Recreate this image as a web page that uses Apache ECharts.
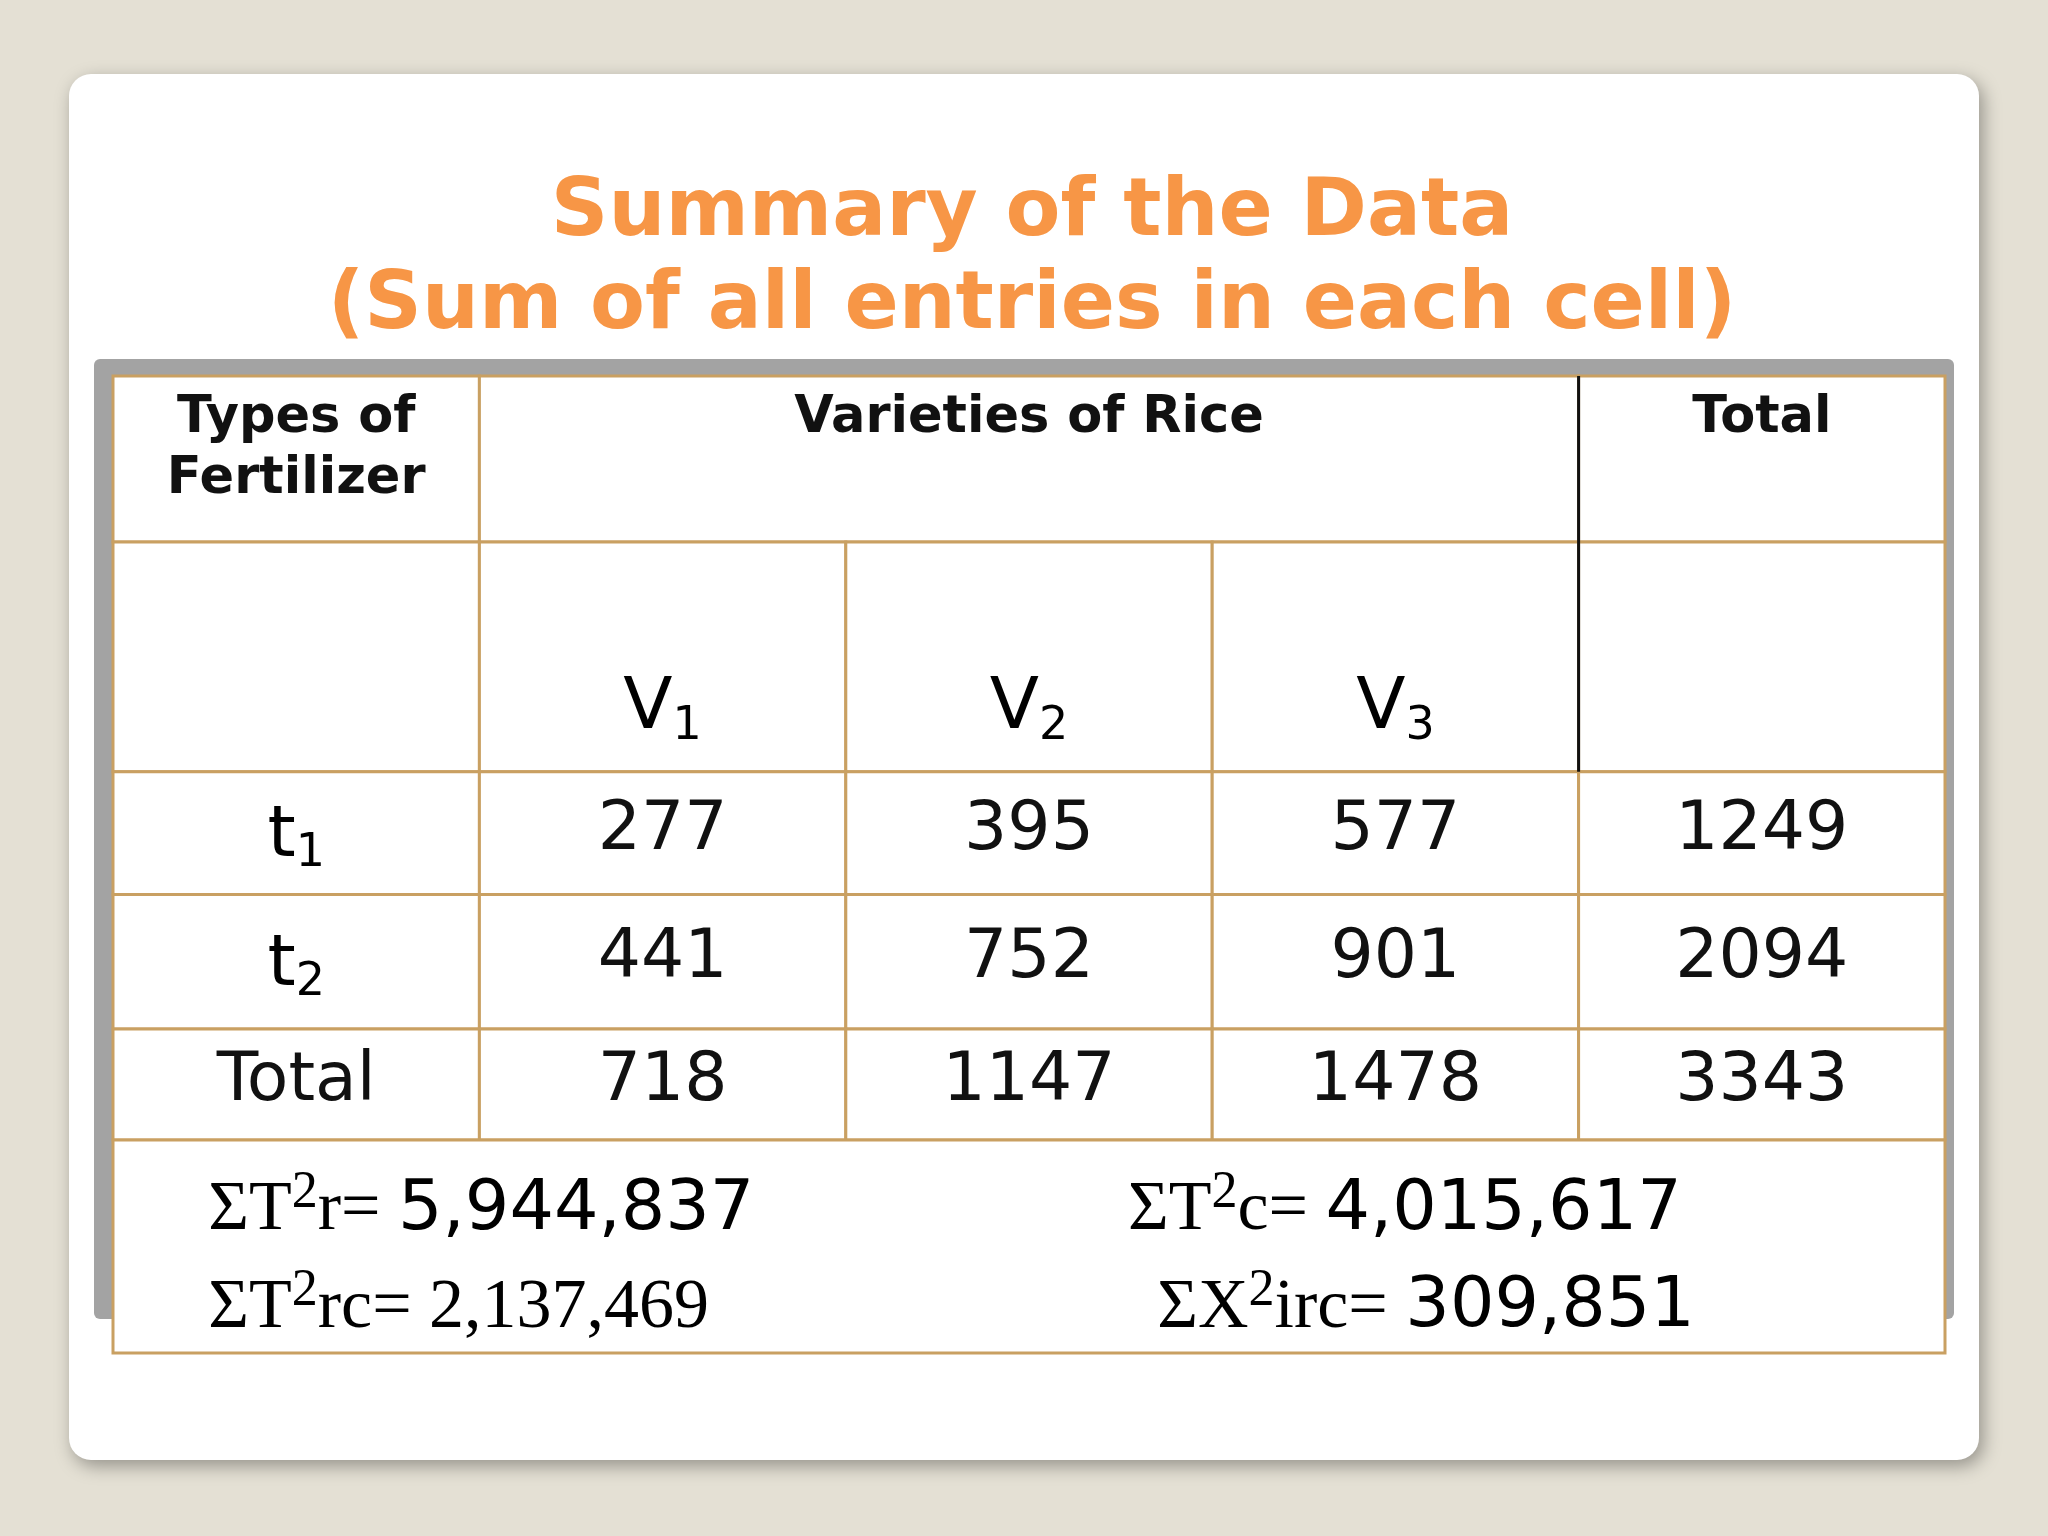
<!DOCTYPE html>
<html>
<head>
<meta charset="utf-8">
<script src="https://cdn.jsdelivr.net/npm/echarts@6/dist/echarts.min.js"></script>
<style>
  html, body { margin: 0; padding: 0; }
  #chart { width: 2048px; height: 1536px; }
</style>
</head>
<body>
<div id="chart"></div>
<script>
const titleLines = ["Summary of the Data", "(Sum of all entries in each cell)"];
const headers = ["Types of\nFertilizer", "Varieties of Rice", "Total"];
const varieties = ["1", "2", "3"];            // V subscripts
const fertilizers = ["1", "2"];               // t subscripts
const yields = [[277, 395, 577], [441, 752, 901]];
const rowTotals = [1249, 2094];
const colTotals = [718, 1147, 1478];
const grandTotal = 3343;
const sums = [
  { name: "T", tail: "r= ", val: "5,944,837", serifVal: false },
  { name: "T", tail: "c= ", val: "4,015,617", serifVal: false },
  { name: "T", tail: "rc= ", val: "2,137,469", serifVal: true },
  { name: "X", tail: "irc= ", val: "309,851", serifVal: false }
];

// row heights of the table (in axis units)
const rowHeights = [127, 176, 94, 103, 85, 163];
const rowEdges = [0];
rowHeights.forEach((h) => rowEdges.push(rowEdges[rowEdges.length - 1] + h));

const SANS = "DejaVu Sans";
const SERIF = "Liberation Serif";
const BORDER = "#c9a062";

const cells = [];
const addCell = (c0, c1, r, text, kind) => {
  cells.push({ value: [c0, c1, rowEdges[r], rowEdges[r + 1]], text, kind });
};

addCell(0, 1, 0, headers[0], "head");
addCell(1, 4, 0, headers[1], "head");
addCell(4, 5, 0, headers[2], "head");
addCell(0, 1, 1, "", "num");
varieties.forEach((v, i) => addCell(i + 1, i + 2, 1, "{b|V}{s|" + v + "}", "sub"));
addCell(4, 5, 1, "", "num");
fertilizers.forEach((t, r) => {
  addCell(0, 1, r + 2, "{b|t}{s|" + t + "}", "subc");
  yields[r].forEach((y, i) => addCell(i + 1, i + 2, r + 2, String(y), "num"));
  addCell(4, 5, r + 2, String(rowTotals[r]), "num");
});
addCell(0, 1, 4, "Total", "num");
colTotals.forEach((y, i) => addCell(i + 1, i + 2, 4, String(y), "num"));
addCell(4, 5, 4, String(grandTotal), "num");
addCell(0, 5, 5, "", "box");

const subRich = {
  b: { fontFamily: SANS, fontSize: 72, color: "#111" },
  s: { fontFamily: SANS, fontSize: 46, color: "#111", padding: [34, 0, 0, 0] }
};

function renderItem(params, api) {
  const cell = cells[params.dataIndex];
  const p0 = api.coord([api.value(0), api.value(2)]);
  const p1 = api.coord([api.value(1), api.value(3)]);
  const x = p0[0], y = p0[1], w = p1[0] - p0[0], h = p1[1] - p0[1];
  const children = [{
    type: "rect",
    shape: { x, y, width: w, height: h },
    style: { fill: "#fff", stroke: BORDER, lineWidth: 3 }
  }];
  const cx = x + w / 2;
  if (cell.kind === "head") {
    children.push({
      type: "text",
      style: { text: cell.text, x: cx, y: y + 12, align: "center", verticalAlign: "top",
        font: "bold 51px '" + SANS + "'", fill: "#111", lineHeight: 61 }
    });
  } else if (cell.kind === "sub") {
    children.push({
      type: "text",
      style: { text: cell.text, x: cx, y: y + h - 22, align: "center", verticalAlign: "bottom", rich: subRich }
    });
  } else if (cell.kind === "subc") {
    children.push({
      type: "text",
      style: { text: cell.text, x: cx, y: y + h / 2 + 4, align: "center", verticalAlign: "middle", rich: subRich }
    });
  } else if (cell.kind === "num") {
    children.push({
      type: "text",
      style: { text: cell.text, x: cx, y: y + h / 2 - 2, align: "center", verticalAlign: "middle",
        font: "68px '" + SANS + "'", fill: "#111" }
    });
  } else if (cell.kind === "box") {
    const colW = w / 5;
    const pos = [[0.26, 0.33], [2.77, 0.33], [0.26, 0.79], [2.77, 0.79]];
    sums.forEach((s, i) => {
      const xx = x + pos[i][0] * colW + (i === 3 ? 0.08 * colW : 0);
      const yy = y + pos[i][1] * h;
      children.push({
        type: "text",
        style: {
          text: "{g|\u03A3" + s.name + "}{p|2}{g|" + s.tail + "}{" + (s.serifVal ? "g" : "n") + "|" + s.val + "}",
          x: xx, y: yy, align: "left", verticalAlign: "middle",
          rich: {
            g: { fontFamily: SERIF, fontSize: 70, color: "#222" },
            p: { fontFamily: SERIF, fontSize: 52, color: "#222", padding: [0, 0, 34, 0] },
            n: { fontFamily: SANS, fontSize: 70, color: "#222" }
          }
        }
      });
    });
  }
  return { type: "group", children };
}

const chart = echarts.init(document.getElementById("chart"));
const s = 2048 / 1568;
chart.setOption({
  backgroundColor: "#e4e0d4",
  animation: false,
  graphic: [
    { type: "rect", z: -10, shape: { x: 69, y: 74, width: 1910, height: 1386, r: 22 },
      style: { fill: "#fff", shadowBlur: 18, shadowOffsetX: 4, shadowOffsetY: 6, shadowColor: "rgba(0,0,0,0.35)" } },
    { type: "rect", z: -5, shape: { x: 94, y: 359, width: 1860, height: 960, r: 6 },
      style: { fill: "#a3a3a3" } },
    ...titleLines.map((t, i) => ({
      type: "text", z: 5,
      style: { text: t, x: 1032, y: (i === 0 ? 164 : 235) * s, align: "center", verticalAlign: "middle",
        font: "bold 80px '" + SANS + "'", fill: "#f79646",
        shadowBlur: 3, shadowOffsetX: 3, shadowOffsetY: 3, shadowColor: "rgba(0,0,0,0.35)" }
    }))
  ],
  grid: { left: 113, right: 103, top: 376, bottom: 183 },
  xAxis: { type: "value", min: 0, max: 5, show: false },
  yAxis: { type: "value", min: 0, max: rowEdges[rowEdges.length - 1], inverse: true, show: false },
  series: [
    {
      type: "custom",
      renderItem,
      encode: { x: [0, 1], y: [2, 3] },
      data: cells.map((c) => c.value),
      z: 2
    },
    {
      type: "custom",
      z: 3,
      encode: { x: [0], y: [1, 2] },
      data: [[4, rowEdges[0], rowEdges[2]]],
      renderItem: (params, api) => {
        const a = api.coord([api.value(0), api.value(1)]);
        const b = api.coord([api.value(0), api.value(2)]);
        return { type: "line", shape: { x1: a[0], y1: a[1], x2: b[0], y2: b[1] },
          style: { stroke: "#111", lineWidth: 3 } };
      }
    }
  ]
});
</script>
</body>
</html>
